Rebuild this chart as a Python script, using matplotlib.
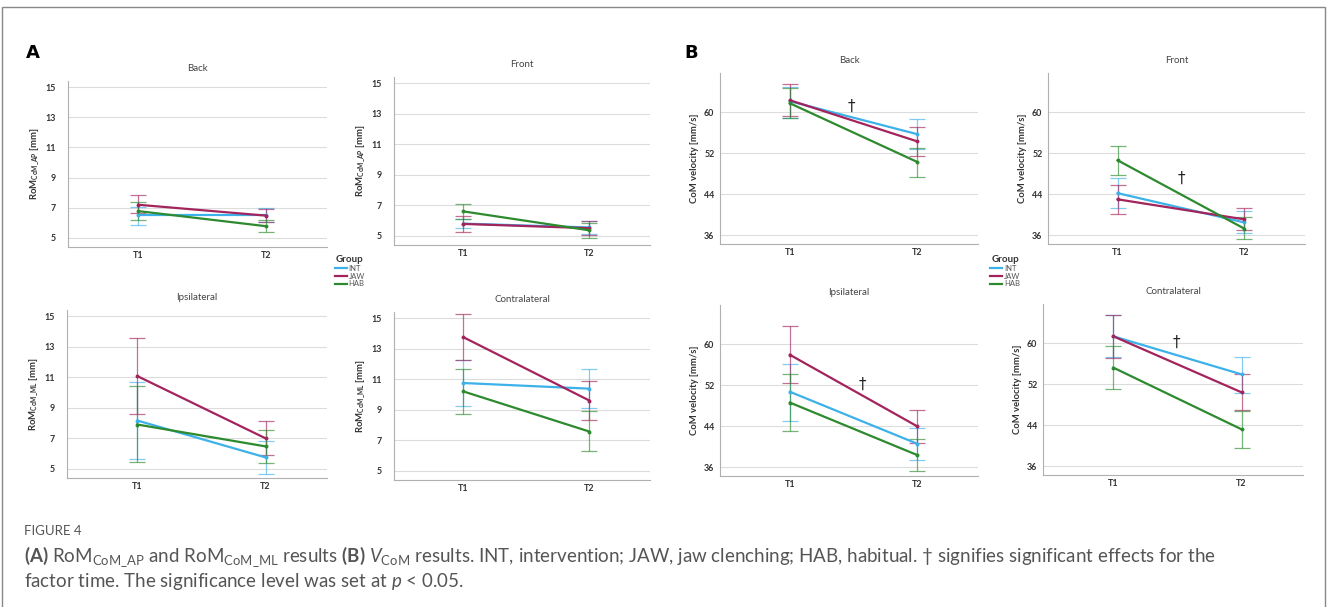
import numpy as np
import matplotlib
matplotlib.use('Agg')
import matplotlib.pyplot as plt
from matplotlib.lines import Line2D
from matplotlib.patches import Rectangle

plt.rcParams['font.family'] = ['Lato', 'DejaVu Sans']
plt.rcParams['mathtext.fontset'] = 'custom'
plt.rcParams['mathtext.rm'] = 'Lato'
plt.rcParams['mathtext.it'] = 'Lato:italic'
plt.rcParams['mathtext.bf'] = 'Lato:bold'
plt.rcParams['mathtext.default'] = 'regular'

groups = ['INT', 'JAW', 'HAB']
colors = ['#3db1e9', '#a3245c', '#2d8a2f']
times = ['T1', 'T2']

# A: range of motion (rows: INT, JAW, HAB; columns: T1, T2)
rom_back_mean = [[6.50, 6.50], [7.20, 6.48], [6.78, 5.78]]
rom_back_low = [[5.89, 6.05], [6.62, 6.04], [6.16, 5.38]]
rom_back_high = [[7.05, 6.96], [7.82, 6.92], [7.38, 6.22]]

rom_front_mean = [[5.80, 5.55], [5.78, 5.50], [6.60, 5.36]]
rom_front_low = [[5.50, 5.10], [5.28, 5.05], [6.10, 4.88]]
rom_front_high = [[6.10, 5.95], [6.30, 5.95], [7.09, 5.84]]

rom_ipsi_mean = [[8.16, 5.75], [11.07, 7.00], [7.90, 6.47]]
rom_ipsi_low = [[5.64, 4.67], [8.60, 5.93], [5.42, 5.37]]
rom_ipsi_high = [[10.68, 6.85], [13.58, 8.12], [10.42, 7.57]]

rom_contra_mean = [[10.75, 10.38], [13.75, 9.60], [10.20, 7.57]]
rom_contra_low = [[9.25, 9.10], [12.25, 8.30], [8.70, 6.28]]
rom_contra_high = [[12.25, 11.68], [15.25, 10.89], [11.70, 8.90]]

# B: CoM velocity
vel_back_mean = [[62.1, 55.7], [62.3, 54.3], [61.7, 50.3]]
vel_back_low = [[58.9, 52.8], [59.2, 51.4], [58.8, 47.4]]
vel_back_high = [[64.9, 58.6], [65.4, 57.0], [64.7, 53.0]]

vel_front_mean = [[44.2, 38.5], [43.0, 39.1], [50.6, 37.3]]
vel_front_low = [[41.4, 36.5], [40.2, 37.0], [47.8, 35.2]]
vel_front_high = [[47.1, 40.7], [45.8, 41.3], [53.3, 39.5]]

vel_ipsi_mean = [[50.7, 40.6], [57.9, 44.0], [48.6, 38.4]]
vel_ipsi_low = [[45.0, 37.4], [52.4, 40.7], [43.0, 35.2]]
vel_ipsi_high = [[56.2, 43.7], [63.6, 47.1], [54.2, 41.5]]

vel_contra_mean = [[61.3, 53.9], [61.3, 50.4], [55.2, 43.2]]
vel_contra_low = [[57.2, 50.3], [57.0, 46.9], [51.0, 39.6]]
vel_contra_high = [[65.4, 57.3], [65.5, 54.0], [59.4, 46.7]]

# dagger positions (x between T1=0 and T2=1, y in data units)
dagger_back = (0.48, 61.2)
dagger_front = (0.50, 47.1)
dagger_ipsi = (0.57, 52.1)
dagger_contra = (0.49, 60.1)

rom_ticks = [5, 7, 9, 11, 13, 15]
vel_ticks = [36, 44, 52, 60]

W, H = 1328, 607
fig = plt.figure(figsize=(W / 100, H / 100), dpi=100)


def box(l, t, r, b):
    return [l / W, 1 - b / H, (r - l) / W, (b - t) / H]


def panel(rect, title, mean, low, high, ylim, yticks, ylabel, tickpad, labelpad, dagger=None):
    ax = fig.add_axes(box(*rect))
    x = np.arange(len(times))
    for i, c in enumerate(colors):
        m = np.array(mean[i])
        err = [m - np.array(low[i]), np.array(high[i]) - m]
        ax.errorbar(x, m, yerr=err, fmt='none', ecolor=c, elinewidth=0.9,
                    capsize=6, capthick=0.9, alpha=0.65, zorder=2)
        ax.plot(x, m, color=c, lw=1.6, zorder=3, marker='o', ms=1.8)
    ax.set_xlim(-0.55, 1.48)
    ax.set_ylim(*ylim)
    ax.set_yticks(yticks)
    ax.set_xticks(x)
    ax.set_xticklabels(times)
    ax.grid(axis='y', color='#dcdcdc', lw=0.8)
    ax.set_axisbelow(True)
    for s in ['top', 'right']:
        ax.spines[s].set_visible(False)
    for s in ['left', 'bottom']:
        ax.spines[s].set_color('#b0b0b0')
        ax.spines[s].set_linewidth(0.8)
    ax.tick_params(length=0, labelsize=6.4, colors='#333333')
    ax.tick_params(axis='y', pad=tickpad)
    ax.tick_params(axis='x', pad=3)
    for lab in ax.get_xticklabels() + ax.get_yticklabels():
        lab.set_fontweight('bold')
    ax.set_title(title, fontsize=7, color='#444444', pad=7)
    ax.set_ylabel(ylabel, fontsize=6.8, fontweight='bold', color='#333333', labelpad=labelpad)
    if dagger is not None:
        ax.text(dagger[0], dagger[1], '\u2020', fontsize=11, ha='center', va='center',
                color='#222222', family='DejaVu Sans')
    return ax


rom_ap = 'RoM$_{CoM\\_AP}$ [mm]'
rom_ml = 'RoM$_{CoM\\_ML}$ [mm]'
vel = 'CoM velocity [mm/s]'

panel((68, 81, 327, 247), 'Back', rom_back_mean, rom_back_low, rom_back_high,
      (4.4, 15.4), rom_ticks, rom_ap, 9, 3)
panel((394, 77, 650, 245), 'Front', rom_front_mean, rom_front_low, rom_front_high,
      (4.4, 15.4), rom_ticks, rom_ap, 9, 3)
panel((67, 310, 327, 478), 'Ipsilateral', rom_ipsi_mean, rom_ipsi_low, rom_ipsi_high,
      (4.4, 15.4), rom_ticks, rom_ml, 9, 3)
panel((394, 312, 650, 480), 'Contralateral', rom_contra_mean, rom_contra_low, rom_contra_high,
      (4.4, 15.4), rom_ticks, rom_ml, 9, 3)

panel((720, 73, 978, 244), 'Back', vel_back_mean, vel_back_low, vel_back_high,
      (34.3, 67.6), vel_ticks, vel, 4, 4, dagger_back)
panel((1048, 73, 1305, 244), 'Front', vel_front_mean, vel_front_low, vel_front_high,
      (34.3, 67.6), vel_ticks, vel, 4, 4, dagger_front)
panel((720, 305, 978, 476), 'Ipsilateral', vel_ipsi_mean, vel_ipsi_low, vel_ipsi_high,
      (34.3, 67.6), vel_ticks, vel, 4, 4, dagger_ipsi)
panel((1043, 304, 1303, 475), 'Contralateral', vel_contra_mean, vel_contra_low, vel_contra_high,
      (34.3, 67.6), vel_ticks, vel, 4, 4, dagger_contra)

# legends
handles = [Line2D([], [], color=c, lw=1.6) for c in colors]
for lx in (335, 990):
    leg = fig.legend(handles, groups, loc='upper left', bbox_to_anchor=(lx / W, 1 - 255 / H),
                     frameon=False, fontsize=5.5, title='Group', title_fontsize=7,
                     handlelength=1.6, handletextpad=0.2, labelspacing=0.1,
                     borderaxespad=0, borderpad=0)
    leg.get_title().set_color('#333333')
    leg.get_title().set_fontweight('bold')
    for t in leg.get_texts():
        t.set_color('#555555')

# panel letters
fig.text(26 / W, 1 - 53 / H, 'A', fontsize=13, fontweight='bold', va='center', family='DejaVu Sans')
fig.text(684 / W, 1 - 53 / H, 'B', fontsize=13, fontweight='bold', va='center', family='DejaVu Sans')

# caption
fig.text(24 / W, 1 - 531 / H, 'FIGURE 4', fontsize=9.5, color='#555555', va='center')
fig.text(24 / W, 1 - 557 / H,
         '$\\mathbf{(A)}$ RoM$_{CoM\\_AP}$ and RoM$_{CoM\\_ML}$ results $\\mathbf{(B)}$ '
         '$\\mathit{V}_{CoM}$ results. INT, intervention; JAW, jaw clenching; HAB, habitual. '
         '\u2020 signifies significant effects for the',
         fontsize=13.5, color='#555555', va='center')
fig.text(24 / W, 1 - 582 / H,
         'factor time. The significance level was set at $\\mathit{p}$ < 0.05.',
         fontsize=13.5, color='#555555', va='center')

# outer frame (open at the bottom edge of the picture)
fig.patches.append(Rectangle((2 / W, -0.02), 1323 / W, 1.02 - 7 / H, transform=fig.transFigure,
                             fill=False, edgecolor='#888888', lw=1.0))

fig.savefig('out.png', dpi=100)
